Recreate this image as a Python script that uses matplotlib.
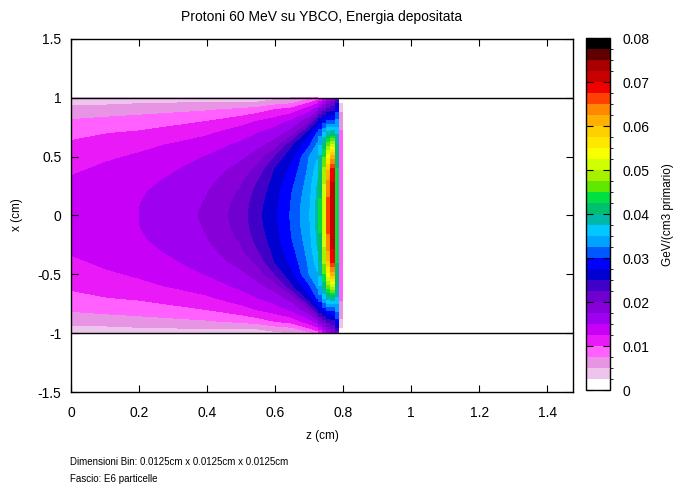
import numpy as np
import matplotlib
matplotlib.use('Agg')
import matplotlib.pyplot as plt
from matplotlib.colors import ListedColormap, BoundaryNorm
from matplotlib.cm import ScalarMappable

plt.rcParams['font.family'] = ['Liberation Sans', 'DejaVu Sans']

# palette of the 32 colour steps, from 0 up to 0.08
palette = ['#ffffff', '#ecc4ec', '#e894e4', '#ff60ff', '#ea1af8', '#c800f8', '#a000f0', '#8800d8',
           '#7000d0', '#4000c8', '#0000d0', '#0000ff', '#0058ff', '#00a4ff', '#00c8ff', '#00b8a8',
           '#00c070', '#00e040', '#60e800', '#a8f000', '#d0ff00', '#f8ff00', '#ffe800', '#ffd000',
           '#ffb000', '#ff8800', '#ff4000', '#f00000', '#c80000', '#a80000', '#600000', '#000000']
levels = np.linspace(0, 0.08, 33)

# half profile across x (symmetric about x=0)
x_half = [0, 0.1, 0.2, 0.3, 0.4, 0.5, 0.6, 0.7, 0.8, 0.9, 0.95, 1.0]

# energy deposited, one row per depth z (smooth part of the target)
z_body = [0, 0.1, 0.2, 0.3, 0.4, 0.5, 0.55, 0.6, 0.65, 0.7, 0.725]
edep_body = [
    [0.0138, 0.0137, 0.01335, 0.0128, 0.0120, 0.0113, 0.0104, 0.0093, 0.0078, 0.0058, 0.0046, 0.0030],
    [0.0144, 0.01435, 0.0141, 0.0136, 0.0129, 0.0121, 0.0111, 0.0099, 0.0083, 0.0060, 0.0047, 0.0031],
    [0.0150, 0.01495, 0.0147, 0.0142, 0.0135, 0.0128, 0.0119, 0.0103, 0.0087, 0.0064, 0.0050, 0.0032],
    [0.0164, 0.0163, 0.0159, 0.0154, 0.0147, 0.0138, 0.0127, 0.0112, 0.0092, 0.0068, 0.0052, 0.0033],
    [0.0179, 0.0177, 0.0174, 0.0167, 0.0160, 0.0151, 0.0138, 0.0121, 0.0100, 0.0072, 0.0055, 0.0035],
    [0.0212, 0.0210, 0.0204, 0.0195, 0.0183, 0.0169, 0.0155, 0.0139, 0.0115, 0.0080, 0.0052, 0.0036],
    [0.0243, 0.0240, 0.0234, 0.0224, 0.0206, 0.0186, 0.0168, 0.0150, 0.0126, 0.0088, 0.0055, 0.0038],
    [0.0270, 0.0268, 0.0264, 0.0258, 0.0250, 0.0225, 0.0185, 0.0163, 0.0137, 0.0100, 0.0068, 0.0042],
    [0.0305, 0.0303, 0.0300, 0.0292, 0.0282, 0.0269, 0.0245, 0.0185, 0.0155, 0.0110, 0.0075, 0.0050],
    [0.0347, 0.0345, 0.0340, 0.0335, 0.0330, 0.0325, 0.0296, 0.0263, 0.0192, 0.0138, 0.0105, 0.0065],
    [0.0385, 0.0383, 0.0380, 0.0375, 0.0363, 0.0347, 0.0330, 0.0305, 0.0250, 0.0162, 0.0125, 0.0080],
]

# Bragg peak bins (0.0125 cm wide), one row per bin
z_peak_edges = [0.725, 0.7375, 0.75, 0.7625, 0.775, 0.7875, 0.8]
edep_peak = [
    [0.0430, 0.0428, 0.0422, 0.0412, 0.0398, 0.0378, 0.0350, 0.0318, 0.0270, 0.0195, 0.0150, 0.0095],
    [0.0520, 0.0518, 0.0510, 0.0496, 0.0478, 0.0450, 0.0410, 0.0355, 0.0290, 0.0215, 0.0170, 0.0120],
    [0.0660, 0.0657, 0.0645, 0.0625, 0.0595, 0.0545, 0.0470, 0.0390, 0.0310, 0.0235, 0.0195, 0.0145],
    [0.0725, 0.0722, 0.0712, 0.0698, 0.0675, 0.0615, 0.0510, 0.0400, 0.0305, 0.0245, 0.0212, 0.0172],
    [0.0435, 0.0435, 0.0432, 0.0428, 0.0425, 0.0415, 0.0400, 0.0372, 0.0332, 0.0290, 0.0260, 0.0200],
    [0.0090, 0.0090, 0.0090, 0.0089, 0.0088, 0.0086, 0.0083, 0.0078, 0.0068, 0.0045, 0.0026, 0.0008],
]

xticks = [0, 0.2, 0.4, 0.6, 0.8, 1, 1.2, 1.4]
xlabels = ['0', '0.2', '0.4', '0.6', '0.8', '1', '1.2', '1.4']
yticks = [-1.5, -1, -0.5, 0, 0.5, 1, 1.5]
ylabels = ['-1.5', '-1', '-0.5', '0', '0.5', '1', '1.5']
cb_ticks = [0, 0.01, 0.02, 0.03, 0.04, 0.05, 0.06, 0.07, 0.08]
cb_labels = ['0', '0.01', '0.02', '0.03', '0.04', '0.05', '0.06', '0.07', '0.08']

cmap = ListedColormap(palette)
norm = BoundaryNorm(levels, cmap.N)

xh = np.array(x_half)
x_full = np.concatenate([-xh[::-1], xh[1:]])


def mirror(v):
    v = np.array(v)
    return np.concatenate([v[::-1], v[1:]])


fig = plt.figure(figsize=(6.76, 4.86), dpi=100)
ax = fig.add_axes([71/676, 1-392/486, 502/676, 353/486])
cax = fig.add_axes([586/676, 1-390/486, 24/676, 352/486])

grid = np.array([mirror(r) for r in edep_body]).T
ax.contourf(z_body, x_full, grid, levels=levels, cmap=cmap, norm=norm, antialiased=False)
for j in range(len(edep_peak)):
    col = mirror(edep_peak[j])
    ax.contourf(z_peak_edges[j:j+2], x_full, np.column_stack([col, col]),
                levels=levels, cmap=cmap, norm=norm, antialiased=False)

ax.axhline(1, color='black', lw=1)
ax.axhline(-1, color='black', lw=1)

ax.set_xlim(0, 1.476)
ax.set_ylim(-1.5, 1.5)
ax.set_xticks(xticks)
ax.set_xticklabels(xlabels)
ax.set_yticks(yticks)
ax.set_yticklabels(ylabels)
ax.tick_params(direction='in', top=True, right=True, length=5, width=0.8,
               labelsize=10, colors='black')
ax.tick_params(axis='x', pad=10)
ax.tick_params(axis='y', pad=7)
for s in ax.spines.values():
    s.set_linewidth(1)

cb = fig.colorbar(ScalarMappable(norm=norm, cmap=cmap), cax=cax, ticks=cb_ticks)
cb.ax.set_yticklabels(cb_labels)
cax.tick_params(direction='in', left=True, right=True, length=5, width=0.8,
                labelsize=10, pad=9)
cb.outline.set_linewidth(1)

fig.text(322/676, 1-17/486, 'Protoni 60 MeV su YBCO, Energia depositata',
         ha='center', va='center', fontsize=10)
fig.text(322/676, 1-436/486, 'z (cm)', ha='center', va='center', fontsize=8.5)
fig.text(17/676, 1-215/486, 'x (cm)', ha='center', va='center', rotation=90, fontsize=8.5)
fig.text(668/676, 1-215/486, 'GeV/(cm3 primario)', ha='center', va='center',
         rotation=90, fontsize=8.5)
fig.text(70/676, 1-462/486, 'Dimensioni Bin: 0.0125cm x 0.0125cm x 0.0125cm',
         ha='left', va='center', fontsize=7)
fig.text(70/676, 1-479/486, 'Fascio: E6 particelle', ha='left', va='center', fontsize=7)

plt.savefig('out.png', dpi=100)
